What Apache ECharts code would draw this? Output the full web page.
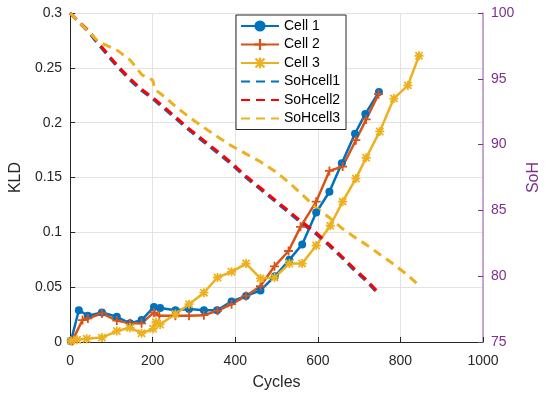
<!DOCTYPE html>
<html>
<head>
<meta charset="utf-8">
<script src="https://cdn.jsdelivr.net/npm/echarts@6/dist/echarts.min.js"></script>
<style>
html,body{margin:0;padding:0;background:#fff;}
#chart{width:550px;height:396px;}
</style>
</head>
<body>
<div id="chart"></div>
<script>
// ---- data ----
var cell1Cycles = [2, 21, 43, 77, 113, 145, 173, 203, 218, 255, 288, 324, 356, 391, 426, 461, 496, 531, 562, 596, 628, 658, 690, 715, 748];
var cell1KLD    = [0.001, 0.029, 0.024, 0.027, 0.023, 0.017, 0.020, 0.032, 0.031, 0.029, 0.030, 0.029, 0.029, 0.037, 0.042, 0.047, 0.060, 0.075, 0.089, 0.118, 0.137, 0.163, 0.190, 0.208, 0.228];

var cell2Cycles = [5, 30, 43, 77, 113, 145, 173, 203, 216, 255, 288, 324, 357, 391, 426, 461, 495, 529, 558, 596, 628, 660, 692, 717, 747];
var cell2KLD    = [0.001, 0.020, 0.0215, 0.026, 0.0195, 0.017, 0.017, 0.027, 0.024, 0.024, 0.024, 0.0245, 0.0285, 0.0345, 0.042, 0.051, 0.069, 0.083, 0.105, 0.128, 0.156, 0.160, 0.184, 0.203, 0.226];

var cell3Cycles = [2, 17, 40, 77, 113, 145, 173, 201, 208, 218, 255, 288, 324, 357, 391, 426, 461, 495, 531, 562, 596, 630, 660, 692, 717, 750, 784, 818, 845];
var cell3KLD    = [0.001, 0.002, 0.003, 0.004, 0.010, 0.013, 0.008, 0.012, 0.018, 0.016, 0.0255, 0.0345, 0.045, 0.0588, 0.064, 0.0715, 0.058, 0.0588, 0.0715, 0.0715, 0.088, 0.106, 0.128, 0.149, 0.168, 0.192, 0.222, 0.234, 0.261];

var sohCycles = [0, 21, 43, 77, 113, 145, 173, 203, 218, 255, 288, 324, 356, 391, 426, 461, 496, 531, 562, 596, 628, 658, 690, 715, 748];
var sohCell1  = [100, 99.3, 98.6, 97.3, 95.95, 94.9, 94.1, 93.4, 93.0, 92.0, 91.1, 90.2, 89.4, 88.5, 87.5, 86.6, 85.7, 84.8, 84.0, 83.2, 82.3, 81.4, 80.4, 79.7, 78.6];
var sohCell2  = [100, 99.35, 98.7, 97.4, 96.05, 95.0, 94.2, 93.5, 93.1, 92.1, 91.2, 90.3, 89.5, 88.6, 87.6, 86.7, 85.8, 84.9, 84.1, 83.3, 82.4, 81.5, 80.5, 79.8, 78.7];

var soh3Cycles = [0, 69, 105, 117, 146, 174, 200, 205, 230, 255, 288, 324, 357, 391, 426, 461, 495, 531, 562, 596, 630, 660, 692, 717, 748, 784, 817, 845];
var sohCell3   = [100, 97.8, 97.3, 97.1, 96.4, 95.3, 94.9, 94.2, 93.6, 92.9, 92.1, 91.3, 90.6, 89.9, 89.3, 88.7, 88.0, 87.1, 86.2, 85.2, 84.4, 83.6, 82.9, 82.4, 81.7, 80.9, 80.1, 79.3];

var seriesNames = ['Cell 1', 'Cell 2', 'Cell 3', 'SoHcell1', 'SoHcell2', 'SoHcell3'];
var xTicks = {min: 0, max: 1000, interval: 200};
var kldTicks = {min: 0, max: 0.3, interval: 0.05};
var sohTicks = {min: 75, max: 100, interval: 5};

function pairs(xs, ys) { return xs.map(function (x, i) { return [x, ys[i]]; }); }

var FONT = "'Liberation Sans', Arial, Helvetica, sans-serif";
var TXT = '#262626';
var PURPLE = '#7E2F8E';
var PLUS = 'path://M4,0L6,0L6,4L10,4L10,6L6,6L6,10L4,10L4,6L0,6L0,4L4,4Z';
var STAR = 'path://M4,0L6,0L6,4L10,4L10,6L6,6L6,10L4,10L4,6L0,6L0,4L4,4Z' +
           'M1.7,0.3L9.7,8.3L8.3,9.7L0.3,1.7Z' +
           'M8.3,0.3L9.7,1.7L1.7,9.7L0.3,8.3Z';

var legendData = seriesNames.map(function (n, i) {
  return i < 3 ? {name: n} : {name: n, itemStyle: {opacity: 0}};
});

var chart = echarts.init(document.getElementById('chart'), null, {renderer: 'canvas'});
chart.setOption({
  animation: false,
  backgroundColor: '#fff',
  textStyle: {fontFamily: FONT},
  grid: {left: 66, right: 65, top: 13, bottom: 53, containLabel: false},
  legend: {
    data: legendData,
    orient: 'vertical',
    left: 236, top: 15,
    padding: [4, 6, 4, 4],
    itemWidth: 38, itemHeight: 14, itemGap: 4.5,
    backgroundColor: '#fff',
    borderColor: '#262626', borderWidth: 1,
    textStyle: {fontSize: 14, color: '#000', fontFamily: FONT}
  },
  xAxis: {
    type: 'value', min: xTicks.min, max: xTicks.max, interval: xTicks.interval,
    name: 'Cycles', nameLocation: 'middle', nameGap: 33,
    nameTextStyle: {fontSize: 16, color: TXT, fontFamily: FONT},
    axisLine: {show: true, onZero: false, lineStyle: {color: '#262626', width: 1}},
    axisTick: {show: true, inside: true, length: 5, lineStyle: {color: '#262626'}},
    axisLabel: {fontSize: 14, color: TXT, margin: 12, fontFamily: FONT,
                formatter: function (v) { return String(v); }},
    splitLine: {show: true, lineStyle: {color: '#e3e3e3', width: 1}}
  },
  yAxis: [{
    type: 'value', position: 'left', min: kldTicks.min, max: kldTicks.max, interval: kldTicks.interval,
    name: 'KLD', nameLocation: 'middle', nameGap: 35, nameRotate: 90,
    nameTextStyle: {fontSize: 16, color: TXT, fontFamily: FONT},
    axisLine: {show: true, onZero: false, lineStyle: {color: '#262626', width: 1}},
    axisTick: {show: true, inside: true, length: 5, lineStyle: {color: '#262626'}},
    axisLabel: {fontSize: 14, color: TXT, margin: 8, fontFamily: FONT},
    splitLine: {show: true, lineStyle: {color: '#e3e3e3', width: 1}}
  }, {
    type: 'value', position: 'right', min: sohTicks.min, max: sohTicks.max, interval: sohTicks.interval,
    name: 'SoH', nameLocation: 'middle', nameGap: 43, nameRotate: 90,
    nameTextStyle: {fontSize: 16, color: PURPLE, fontFamily: FONT},
    axisLine: {show: true, onZero: false, lineStyle: {color: '#B48CC4', width: 1.5}},
    axisTick: {show: true, inside: true, length: 5, lineStyle: {color: PURPLE}},
    axisLabel: {fontSize: 14, color: PURPLE, margin: 8, fontFamily: FONT},
    splitLine: {show: false}
  }],
  series: [
    {name: 'Cell 1', type: 'line', yAxisIndex: 0, data: pairs(cell1Cycles, cell1KLD),
     symbol: 'circle', symbolSize: 8, showAllSymbol: true,
     lineStyle: {color: '#0072BD', width: 2.5}, itemStyle: {color: '#0072BD'}},
    {name: 'Cell 2', type: 'line', yAxisIndex: 0, data: pairs(cell2Cycles, cell2KLD),
     symbol: PLUS, symbolSize: 9, showAllSymbol: true,
     lineStyle: {color: '#D95319', width: 2.5}, itemStyle: {color: '#D95319'}},
    {name: 'Cell 3', type: 'line', yAxisIndex: 0, data: pairs(cell3Cycles, cell3KLD),
     symbol: STAR, symbolSize: 9, showAllSymbol: true,
     lineStyle: {color: '#EDB120', width: 2.5}, itemStyle: {color: '#EDB120'}},
    {name: 'SoHcell1', type: 'line', yAxisIndex: 1, data: pairs(sohCycles, sohCell1),
     symbol: 'none', lineStyle: {color: '#0072BD', width: 3, type: [9, 6]}, itemStyle: {color: '#0072BD'}},
    {name: 'SoHcell2', type: 'line', yAxisIndex: 1, data: pairs(sohCycles, sohCell2),
     symbol: 'none', lineStyle: {color: '#FF0000', width: 3, type: [9, 6]}, itemStyle: {color: '#FF0000'}},
    {name: 'SoHcell3', type: 'line', yAxisIndex: 1, data: pairs(soh3Cycles, sohCell3),
     symbol: 'none', lineStyle: {color: '#EDB120', width: 3, type: [9, 6]}, itemStyle: {color: '#EDB120'}}
  ]
});
</script>
</body>
</html>
